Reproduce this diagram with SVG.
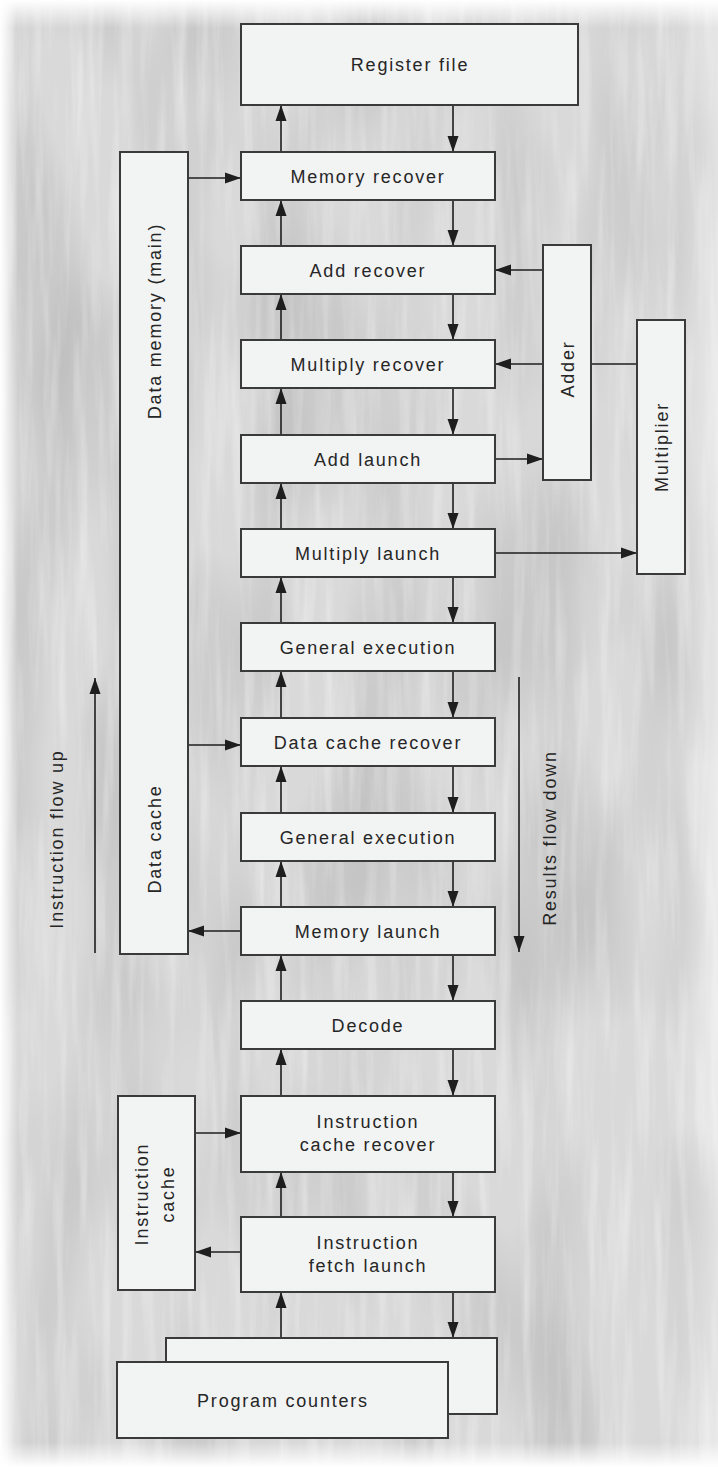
<svg xmlns="http://www.w3.org/2000/svg" width="718" height="1467" viewBox="0 0 718 1467">
  <defs>
    <style>
      .box { fill: #f2f3f3; stroke: #3a3a3a; stroke-width: 2; }
      .lbl { font-family: "Liberation Sans", Arial, Helvetica, sans-serif; font-size: 18px; letter-spacing: 1.8px; fill: #262626; text-anchor: middle; }
      .wire { fill: none; stroke: #1e1e1e; stroke-width: 1.6; }
      .arrow { marker-end: url(#head); }
    </style>
    <marker id="head" markerUnits="userSpaceOnUse" markerWidth="17" markerHeight="13" refX="16" refY="6.5" orient="auto">
      <path d="M0,1 L16,6.5 L0,12 Z" fill="#1e1e1e"/>
    </marker>
    <!-- fine vertical streaks of the paper -->
    <filter id="grain" x="0" y="0" width="100%" height="100%">
      <feTurbulence type="fractalNoise" baseFrequency="0.09 0.006" numOctaves="3" seed="7" result="n"/>
      <feColorMatrix in="n" type="matrix" values="0 0 0 0 1  0 0 0 0 1  0 0 0 0 1  0.8 0 0 0 -0.36"/>
    </filter>
    <!-- broad soft shading -->
    <filter id="grain2" x="0" y="0" width="100%" height="100%">
      <feTurbulence type="fractalNoise" baseFrequency="0.012 0.004" numOctaves="2" seed="3" result="n"/>
      <feColorMatrix in="n" type="matrix" values="0 0 0 0 0  0 0 0 0 0  0 0 0 0 0  0.25 0 0 0 -0.1"/>
    </filter>
    <linearGradient id="fadeTop" x1="0" y1="0" x2="0" y2="1">
      <stop offset="0" stop-color="#ffffff" stop-opacity="1"/>
      <stop offset="1" stop-color="#ffffff" stop-opacity="0"/>
    </linearGradient>
    <linearGradient id="fadeBottom" x1="0" y1="1" x2="0" y2="0">
      <stop offset="0" stop-color="#ffffff" stop-opacity="1"/>
      <stop offset="1" stop-color="#ffffff" stop-opacity="0"/>
    </linearGradient>
    <linearGradient id="fadeLeft" x1="0" y1="0" x2="1" y2="0">
      <stop offset="0" stop-color="#ffffff" stop-opacity="1"/>
      <stop offset="1" stop-color="#ffffff" stop-opacity="0"/>
    </linearGradient>
    <linearGradient id="fadeRight" x1="1" y1="0" x2="0" y2="0">
      <stop offset="0" stop-color="#ffffff" stop-opacity="0.5"/>
      <stop offset="1" stop-color="#ffffff" stop-opacity="0"/>
    </linearGradient>
  </defs>

  <!-- background -->
  <g id="background">
    <rect x="0" y="0" width="718" height="1467" fill="#d9d9d9"/>
    <rect x="0" y="0" width="718" height="1467" filter="url(#grain2)"/>
    <rect x="0" y="0" width="718" height="1467" filter="url(#grain)"/>
    <rect x="0" y="0" width="718" height="28" fill="url(#fadeTop)"/>
    <rect x="0" y="1442" width="718" height="25" fill="url(#fadeBottom)"/>
    <rect x="0" y="0" width="18" height="1467" fill="url(#fadeLeft)"/>
    <rect x="680" y="0" width="38" height="1467" fill="url(#fadeRight)"/>
  </g>

  <!-- connectors -->
  <g id="connectors">
    <!-- instructions moving up the left lane -->
    <path class="wire arrow" d="M281,152 V105"/>
    <path class="wire arrow" d="M281,246 V200"/>
    <path class="wire arrow" d="M281,340 V294"/>
    <path class="wire arrow" d="M281,435 V388"/>
    <path class="wire arrow" d="M281,529 V483"/>
    <path class="wire arrow" d="M281,623 V577"/>
    <path class="wire arrow" d="M281,718 V671"/>
    <path class="wire arrow" d="M281,813 V766"/>
    <path class="wire arrow" d="M281,907 V861"/>
    <path class="wire arrow" d="M281,1001 V955"/>
    <path class="wire arrow" d="M281,1096 V1049"/>
    <path class="wire arrow" d="M281,1217 V1172"/>
    <path class="wire arrow" d="M281,1338 V1292"/>
    <!-- results moving down the right lane -->
    <path class="wire arrow" d="M453,105 V152"/>
    <path class="wire arrow" d="M453,200 V246"/>
    <path class="wire arrow" d="M453,294 V340"/>
    <path class="wire arrow" d="M453,388 V435"/>
    <path class="wire arrow" d="M453,483 V529"/>
    <path class="wire arrow" d="M453,577 V623"/>
    <path class="wire arrow" d="M453,671 V718"/>
    <path class="wire arrow" d="M453,766 V813"/>
    <path class="wire arrow" d="M453,861 V907"/>
    <path class="wire arrow" d="M453,955 V1001"/>
    <path class="wire arrow" d="M453,1049 V1096"/>
    <path class="wire arrow" d="M453,1172 V1217"/>
    <path class="wire arrow" d="M453,1292 V1338"/>
    <!-- memory side -->
    <path class="wire arrow" d="M188,178 H241"/>
    <path class="wire arrow" d="M188,745 H241"/>
    <path class="wire arrow" d="M241,931 H188"/>
    <!-- functional units -->
    <path class="wire arrow" d="M543,270 H495"/>
    <path class="wire arrow" d="M543,364 H495"/>
    <path class="wire" d="M591,364 H637"/>
    <path class="wire arrow" d="M495,459 H543"/>
    <path class="wire arrow" d="M495,553 H637"/>
    <!-- instruction cache -->
    <path class="wire arrow" d="M195,1133 H241"/>
    <path class="wire arrow" d="M241,1252 H195"/>
    <!-- flow direction indicators -->
    <path class="wire arrow" d="M95,953 V678"/>
    <path class="wire arrow" d="M519,677 V952"/>
  </g>

  <g id="register-file">
    <rect class="box" x="241" y="24" width="337" height="81"/>
    <text class="lbl" x="410" y="71">Register file</text>
  </g>
  <g id="memory-recover">
    <rect class="box" x="241" y="152" width="254" height="48"/>
    <text class="lbl" x="368" y="182.5">Memory recover</text>
  </g>
  <g id="add-recover">
    <rect class="box" x="241" y="246" width="254" height="48"/>
    <text class="lbl" x="368" y="276.5">Add recover</text>
  </g>
  <g id="multiply-recover">
    <rect class="box" x="241" y="340" width="254" height="48"/>
    <text class="lbl" x="368" y="370.5">Multiply recover</text>
  </g>
  <g id="add-launch">
    <rect class="box" x="241" y="435" width="254" height="48"/>
    <text class="lbl" x="368" y="465.5">Add launch</text>
  </g>
  <g id="multiply-launch">
    <rect class="box" x="241" y="529" width="254" height="48"/>
    <text class="lbl" x="368" y="559.5">Multiply launch</text>
  </g>
  <g id="general-execution-1">
    <rect class="box" x="241" y="623" width="254" height="48"/>
    <text class="lbl" x="368" y="653.5">General execution</text>
  </g>
  <g id="data-cache-recover">
    <rect class="box" x="241" y="718" width="254" height="48"/>
    <text class="lbl" x="368" y="748.5">Data cache recover</text>
  </g>
  <g id="general-execution-2">
    <rect class="box" x="241" y="813" width="254" height="48"/>
    <text class="lbl" x="368" y="843.5">General execution</text>
  </g>
  <g id="memory-launch">
    <rect class="box" x="241" y="907" width="254" height="48"/>
    <text class="lbl" x="368" y="937.5">Memory launch</text>
  </g>
  <g id="decode">
    <rect class="box" x="241" y="1001" width="254" height="48"/>
    <text class="lbl" x="368" y="1031.5">Decode</text>
  </g>
  <g id="instruction-cache-recover">
    <rect class="box" x="241" y="1096" width="254" height="76"/>
    <text class="lbl" x="368" y="1128">Instruction</text>
    <text class="lbl" x="368" y="1151">cache recover</text>
  </g>
  <g id="instruction-fetch-launch">
    <rect class="box" x="241" y="1217" width="254" height="75"/>
    <text class="lbl" x="368" y="1249">Instruction</text>
    <text class="lbl" x="368" y="1272">fetch launch</text>
  </g>
  <g id="program-counters">
    <rect class="box" x="166" y="1338" width="331" height="76"/>
    <rect class="box" x="117" y="1362" width="331" height="76"/>
    <text class="lbl" x="283" y="1406.5">Program counters</text>
  </g>

  <g id="data-memory">
    <rect class="box" x="120" y="152" width="68" height="802"/>
    <text class="lbl" transform="translate(161,321) rotate(-90)">Data memory (main)</text>
    <text class="lbl" transform="translate(161,839) rotate(-90)">Data cache</text>
  </g>
  <g id="adder">
    <rect class="box" x="543" y="245" width="48" height="235"/>
    <text class="lbl" transform="translate(573.5,369) rotate(-90)">Adder</text>
  </g>
  <g id="multiplier">
    <rect class="box" x="637" y="320" width="48" height="254"/>
    <text class="lbl" transform="translate(667.5,447) rotate(-90)">Multiplier</text>
  </g>
  <g id="instruction-cache">
    <rect class="box" x="118" y="1096" width="77" height="194"/>
    <text class="lbl" transform="translate(148,1194) rotate(-90)">Instruction</text>
    <text class="lbl" transform="translate(174,1194) rotate(-90)">cache</text>
  </g>

  <g id="flow-labels">
    <text class="lbl" transform="translate(63,839) rotate(-90)">Instruction flow up</text>
    <text class="lbl" transform="translate(556,838) rotate(-90)">Results flow down</text>
  </g>
</svg>
